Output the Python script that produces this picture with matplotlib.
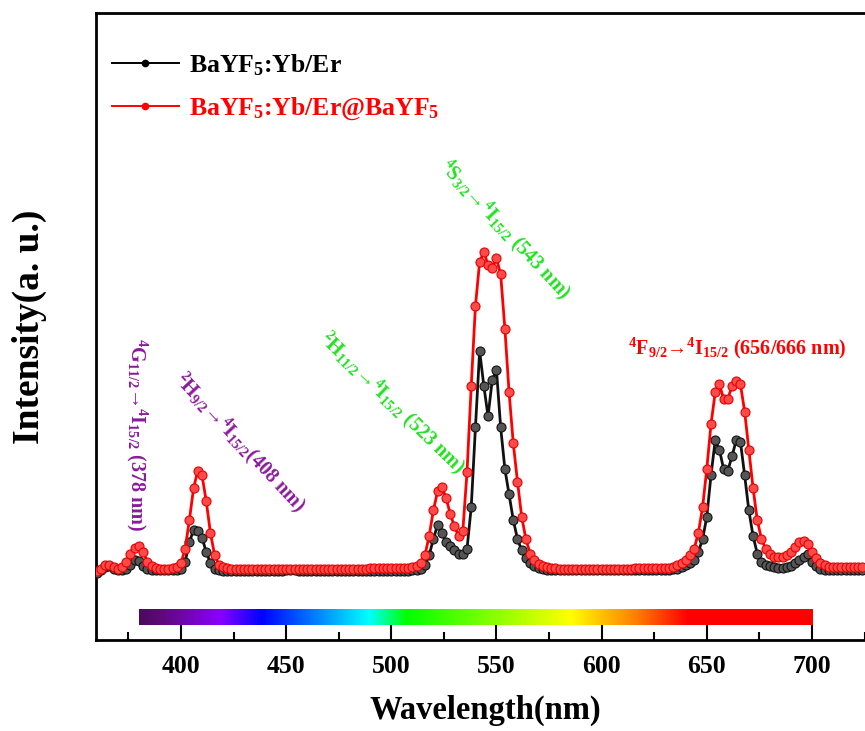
import matplotlib
matplotlib.use("Agg")
import matplotlib.pyplot as plt
import numpy as np
from matplotlib.colors import LinearSegmentedColormap
from matplotlib.lines import Line2D

plt.rcParams['font.family'] = ['Liberation Serif', 'DejaVu Serif']
plt.rcParams['font.weight'] = 'bold'
plt.rcParams['mathtext.fontset'] = 'custom'
plt.rcParams['mathtext.rm'] = 'Liberation Serif:bold'
plt.rcParams['mathtext.it'] = 'Liberation Serif:bold'
plt.rcParams['mathtext.bf'] = 'Liberation Serif:bold'

# wavelength grid (nm), 2 nm steps
wavelength = list(range(360, 726, 2))

# BaYF5:Yb/Er@BaYF5 (red), values
red_vals = [
    0.0, 0.8, 1.8, 2.0, 1.2, 0.8, 1.2, 3.0, 5.5, 7.2,          # 360-378
    7.8, 6.0, 3.0, 1.5, 0.9, 0.8, 0.8, 0.8, 0.9, 1.2,          # 380-398
    2.5, 7.0, 16.0, 26.0, 31.5, 30.0, 22.0, 12.0, 5.0, 2.0,    # 400-418
    1.2, 0.9, 0.8, 0.8, 0.8, 0.7, 0.7, 0.7, 0.7, 0.7,          # 420-438
    0.7, 0.7, 0.7, 0.7, 0.7, 0.8, 0.8, 0.8, 0.8, 0.8,          # 440-458
    0.8, 0.8, 0.8, 0.8, 0.8, 0.8, 0.8, 0.8, 0.8, 0.8,          # 460-478
    0.8, 0.8, 0.8, 0.8, 0.8, 0.9, 0.9, 0.9, 1.0, 1.0,          # 480-498
    1.0, 1.0, 1.0, 1.1, 1.1, 1.2, 1.5, 2.5, 5.0, 11.0,         # 500-518
    19.0, 25.0, 26.5, 23.0, 18.0, 14.0, 11.0, 12.5, 31.0, 58.0,  # 520-538
    83.0, 97.0, 100.0, 96.0, 95.0, 98.0, 93.0, 76.0, 56.0, 40.0,  # 540-558
    28.0, 17.0, 10.0, 5.5, 3.5, 2.2, 1.5, 1.2, 1.0, 0.9,       # 560-578
    0.8, 0.8, 0.8, 0.8, 0.8, 0.8, 0.8, 0.8, 0.8, 0.8,          # 580-598
    0.8, 0.8, 0.8, 0.8, 0.8, 0.8, 0.8, 0.8, 0.9, 0.9,          # 600-618
    0.9, 0.9, 0.9, 0.9, 0.9, 0.9, 1.0, 1.3, 1.8, 2.5,          # 620-638
    3.5, 5.0, 7.0, 12.0, 20.0, 32.0, 46.0, 56.0, 58.5, 54.0,   # 640-658
    54.0, 58.0, 59.5, 58.5, 50.0, 38.0, 26.0, 16.0, 10.0, 7.0,  # 660-678
    5.5, 4.5, 4.3, 4.5, 5.0, 6.0, 7.5, 9.0, 9.5, 8.5,          # 680-698
    6.0, 4.0, 2.5, 1.8, 1.4, 1.2, 1.2, 1.2, 1.2, 1.2,          # 700-718
    1.2, 1.2, 1.2,                                             # 720-724
]

# BaYF5:Yb/Er (black)
black_vals = [
    -0.5, 0.3, 1.2, 1.5, 0.6, 0.3, 0.3, 0.8, 2.0, 3.5,         # 360-378
    3.2, 1.5, 0.5, 0.2, 0.2, 0.2, 0.2, 0.2, 0.2, 0.2,          # 380-398
    0.6, 3.0, 9.0, 13.0, 12.5, 10.5, 6.0, 2.5, 0.8, 0.3,       # 400-418
    0.1, 0.0, 0.0, 0.0, 0.0, 0.0, 0.0, 0.0, 0.0, 0.0,          # 420-438
    0.0, 0.0, 0.0, 0.0, 0.0, 0.2, 0.4, 0.3, 0.1, 0.0,          # 440-458
    0.0, 0.0, 0.0, 0.0, 0.0, 0.0, 0.0, 0.0, 0.0, 0.0,          # 460-478
    0.0, 0.0, 0.0, 0.0, 0.0, 0.0, 0.0, 0.0, 0.0, 0.0,          # 480-498
    0.0, 0.0, 0.0, 0.1, 0.1, 0.2, 0.3, 0.8, 2.0, 5.0,          # 500-518
    10.0, 14.5, 12.0, 9.0, 8.0, 6.5, 5.5, 5.5, 7.0, 20.0,      # 520-538
    45.0, 69.0, 58.0, 48.5, 60.0, 63.0, 45.0, 32.0, 24.0, 16.0,  # 540-558
    10.0, 6.5, 4.0, 2.5, 1.5, 0.9, 0.6, 0.4, 0.3, 0.2,         # 560-578
    0.2, 0.2, 0.2, 0.2, 0.2, 0.2, 0.2, 0.2, 0.2, 0.2,          # 580-598
    0.2, 0.2, 0.2, 0.2, 0.2, 0.2, 0.2, 0.2, 0.2, 0.2,          # 600-618
    0.2, 0.2, 0.2, 0.2, 0.2, 0.2, 0.3, 0.5, 0.8, 1.2,          # 620-638
    1.8, 2.5, 3.5, 6.0, 10.0, 17.0, 30.0, 41.0, 38.0, 32.0,    # 640-658
    31.5, 36.0, 41.0, 40.5, 30.0, 19.0, 11.0, 5.5, 3.0, 2.0,   # 660-678
    1.5, 1.2, 1.0, 1.0, 1.2, 1.5, 2.5, 3.5, 4.5, 5.5,          # 680-698
    3.0, 1.5, 0.8, 0.3, 0.3, 0.3, 0.3, 0.3, 0.3, 0.3,          # 700-718
    0.3, 0.3, 0.3,                                             # 720-724
]

xticks = [400, 450, 500, 550, 600, 650, 700]

# spectrum colour bar stops (nm, colour)
bar_range = (380, 700)
bar_stops = [(380, '#4a0a5e'), (390, '#5e0a78'), (418, '#8a00ff'), (438, '#0000ff'),
             (489, '#00ffff'), (507, '#00ff00'), (585, '#ffff00'), (616, '#ff8000'),
             (641, '#ff0000'), (700, '#ff0000')]

fig = plt.figure(figsize=(8.65, 7.31), dpi=100)
ax = fig.add_axes([96 / 865, 1 - 640 / 731, 778 / 865, 627 / 731])

ax.plot(wavelength, black_vals, color='#111111', lw=2, marker='o', ms=6.5,
        mfc='#555555', mec='#111111', mew=0.8, zorder=3)
ax.plot(wavelength, red_vals, color='red', lw=2, marker='o', ms=6.5,
        mfc='#ff4a4a', mec='#e80000', mew=0.8, zorder=4)

# colour bar of the visible spectrum
pos = [(w - bar_range[0]) / (bar_range[1] - bar_range[0]) for w, c in bar_stops]
cmap = LinearSegmentedColormap.from_list('spec', list(zip(pos, [c for w, c in bar_stops])))
grad = np.linspace(0, 1, 512).reshape(1, -1)
ax.imshow(grad, cmap=cmap, aspect='auto', extent=(bar_range[0], bar_range[1], -16.9, -11.9),
          zorder=2)

ax.set_xlim(359.6, 729.5)
ax.set_ylim(-21.6, 174.9)
ax.set_xticks(xticks)
ax.set_xticks([375, 425, 475, 525, 575, 625, 675, 725], minor=True)
ax.set_yticks([])
ax.tick_params(axis='x', which='major', direction='in', length=12, width=1.5,
               labelsize=18.5, pad=11)
ax.tick_params(axis='x', which='minor', direction='in', length=6, width=1.5)
for lab in ax.get_xticklabels():
    lab.set_fontweight('bold')
for s in ['left', 'top', 'bottom']:
    ax.spines[s].set_linewidth(2)
ax.spines['right'].set_visible(False)

ax.set_xlabel('Wavelength(nm)', fontsize=23.5, fontweight='bold', labelpad=12)
ax.set_ylabel('Intensity(a. u.)', fontsize=27, fontweight='bold', labelpad=35)

handles = [Line2D([], [], color='black', lw=1.4, marker='o', ms=4.5),
           Line2D([], [], color='red', lw=1.4, marker='o', ms=4.5)]
leg = ax.legend(handles, ['BaYF$_5$:Yb/Er', 'BaYF$_5$:Yb/Er@BaYF$_5$'],
                loc='upper left', bbox_to_anchor=(0.004, 0.958), frameon=False,
                fontsize=18.5, handlelength=2.6, handletextpad=0.4, labelspacing=0.7,
                numpoints=1, borderpad=0)
for t, c in zip(leg.get_texts(), ['black', 'red']):
    t.set_color(c)
    t.set_fontweight('bold')

purple = '#8a1a9a'
green = '#22e022'
fs = 14.5
fig.text(137 / 865, 1 - 435 / 731, r'$^4$G$_{11/2}$→$^4$I$_{15/2}$ (378 nm)', color=purple,
         fontsize=fs, fontweight='bold', rotation=-90, ha='center', va='center')
fig.text(240 / 865, 1 - 443 / 731, r'$^2$H$_{9/2}$→$^4$I$_{15/2}$(408 nm)', color=purple,
         fontsize=fs, fontweight='bold', rotation=-47, ha='center', va='center',
         rotation_mode='anchor')
fig.text(392 / 865, 1 - 403 / 731, r'$^2$H$_{11/2}$→$^4$I$_{15/2}$ (523 nm)', color=green,
         fontsize=fs, fontweight='bold', rotation=-44, ha='center', va='center',
         rotation_mode='anchor')
fig.text(505 / 865, 1 - 230 / 731, r'$^4$S$_{3/2}$→$^4$I$_{15/2}$ (543 nm)', color=green,
         fontsize=fs, fontweight='bold', rotation=-47, ha='center', va='center',
         rotation_mode='anchor')
fig.text(737 / 865, 1 - 348 / 731, r'$^4$F$_{9/2}$→$^4$I$_{15/2}$ (656/666 nm)', color='red',
         fontsize=fs, fontweight='bold', ha='center', va='center')

fig.savefig('out.png', dpi=100)
